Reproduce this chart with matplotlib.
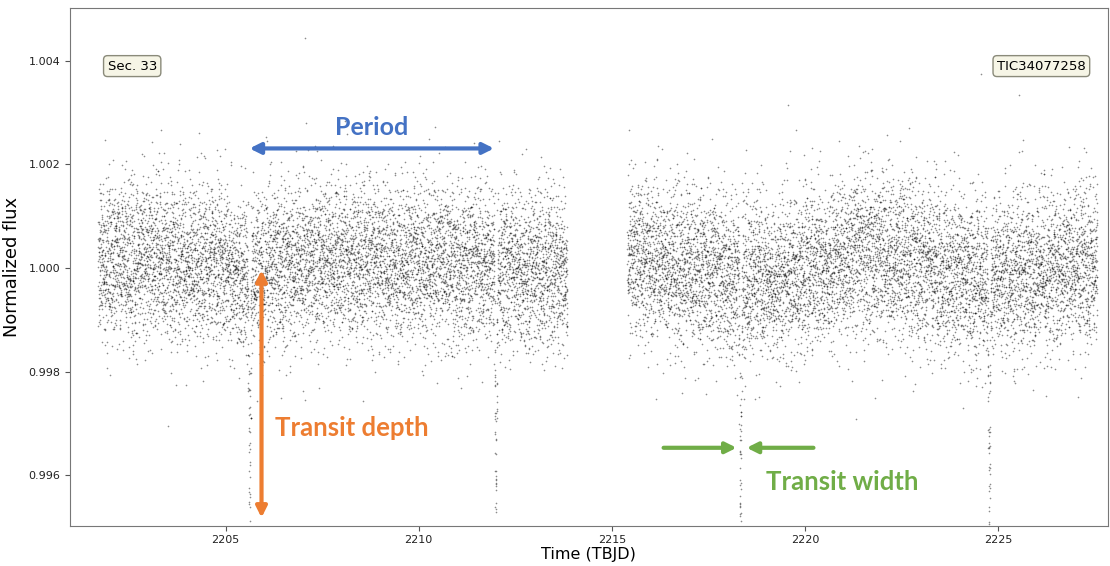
import numpy as np
import matplotlib
matplotlib.use("Agg")
import matplotlib.pyplot as plt

# Light curve structure (TESS sector 33, 2-min cadence)
segment_start = [2201.70, 2215.40]
segment_end = [2213.85, 2227.57]
cadence_days = 2.0 / 60 / 24

# Slow baseline trend (time, flux) read from the centre of the point cloud
trend_time = [2201.7, 2203.0, 2204.0, 2205.5, 2206.5, 2208.0, 2210.0, 2212.0, 2213.85,
              2215.4, 2216.5, 2217.5, 2218.5, 2219.5, 2220.5, 2221.5, 2222.5, 2223.5,
              2224.5, 2225.5, 2226.5, 2227.57]
trend_flux = [1.0001, 1.0002, 1.0001, 0.9999, 1.0001, 1.0001, 1.0001, 1.0000, 1.0000,
              1.0003, 1.0001, 0.9999, 0.9998, 0.9998, 1.0001, 1.0003, 1.0002, 1.0000,
              0.9998, 0.9999, 1.0000, 1.0001]
noise_sigma = 0.00078

# Transits
transit_times = [2205.62, 2212.00, 2218.33, 2224.77]
transit_depth = 0.0049
transit_duration = 0.085

# A few isolated outliers
outlier_time = [2207.05, 2224.55, 2225.55, 2219.55, 2203.5]
outlier_flux = [1.00445, 1.00375, 1.00335, 1.00315, 0.99695]

# Annotation labels
sector_label = "Sec. 33"
target_label = "TIC34077258"


def build_light_curve():
    rng = np.random.default_rng(33)
    times = []
    for t0, t1 in zip(segment_start, segment_end):
        times.append(np.arange(t0, t1, cadence_days))
    t = np.concatenate(times)
    flux = np.interp(t, trend_time, trend_flux) + rng.normal(0, noise_sigma, t.size)
    for tc in transit_times:
        phase = np.abs(t - tc) / (transit_duration / 2)
        inside = phase < 1
        flux[inside] -= transit_depth * (1 - phase[inside])
    t = np.concatenate([t, outlier_time])
    flux = np.concatenate([flux, outlier_flux])
    return t, flux


def main():
    t, flux = build_light_curve()

    fig = plt.figure(figsize=(11.10, 5.66), dpi=100)
    ax = fig.add_axes([0.063, 0.0707, 0.935, 0.915])
    ax.scatter(t, flux, s=1.4, c="k", alpha=0.45, linewidths=0)

    ax.set_xlim(2200.97, 2227.84)
    ax.set_ylim(0.99502, 1.00502)
    ax.set_xticks([2205, 2210, 2215, 2220, 2225])
    ax.set_yticks([0.996, 0.998, 1.000, 1.002, 1.004])
    ax.yaxis.set_major_formatter(matplotlib.ticker.FormatStrFormatter("%.3f"))
    ax.tick_params(labelsize=8, length=3.5, color="#555555", labelcolor="#222222")
    ax.tick_params(axis="x", pad=3)
    for sp in ax.spines.values():
        sp.set_color("#777777")
    ax.set_xlabel("Time (TBJD)", fontsize=11.5, labelpad=1.5)
    ax.set_ylabel("Normalized flux", fontsize=12.9, labelpad=5)

    box = dict(boxstyle="round,pad=0.3", facecolor="#f6f5e6", edgecolor="#8a8a7a")
    ax.text(0.06, 0.888, sector_label, transform=ax.transAxes, fontsize=9.5,
            ha="center", va="center", bbox=box)
    ax.text(0.936, 0.888, target_label, transform=ax.transAxes, fontsize=9.5,
            ha="center", va="center", bbox=box)

    # Period
    blue = "#4472C4"
    ax.annotate("", xy=(transit_times[0], 1.00231), xytext=(transit_times[1] - 0.05, 1.00231),
                arrowprops=dict(arrowstyle="<|-|>", color=blue, lw=3, mutation_scale=16,
                                shrinkA=0, shrinkB=0))
    ax.text(2208.77, 1.00272, "Period", color=blue, fontsize=18, fontweight="bold",
            family="Lato", ha="center", va="center")

    # Transit depth
    orange = "#ED7D31"
    ax.annotate("", xy=(2205.93, 0.99996), xytext=(2205.93, 0.99518),
                arrowprops=dict(arrowstyle="<|-|>", color=orange, lw=3, mutation_scale=16,
                                shrinkA=0, shrinkB=0))
    ax.text(2206.27, 0.99692, "Transit depth", color=orange, fontsize=18.5,
            fontweight="bold", family="Lato", ha="left", va="center")

    # Transit width
    green = "#70AD47"
    ax.annotate("", xy=(2218.23, 0.99653), xytext=(2216.34, 0.99653),
                arrowprops=dict(arrowstyle="-|>", color=green, lw=3, mutation_scale=16,
                                shrinkA=0, shrinkB=0))
    ax.annotate("", xy=(2218.49, 0.99653), xytext=(2220.22, 0.99653),
                arrowprops=dict(arrowstyle="-|>", color=green, lw=3, mutation_scale=16,
                                shrinkA=0, shrinkB=0))
    ax.text(2218.98, 0.99586, "Transit width", color=green, fontsize=18.5,
            fontweight="bold", family="Lato", ha="left", va="center")

    fig.savefig("out.png", dpi=100)
    plt.close(fig)


if __name__ == "__main__":
    main()
